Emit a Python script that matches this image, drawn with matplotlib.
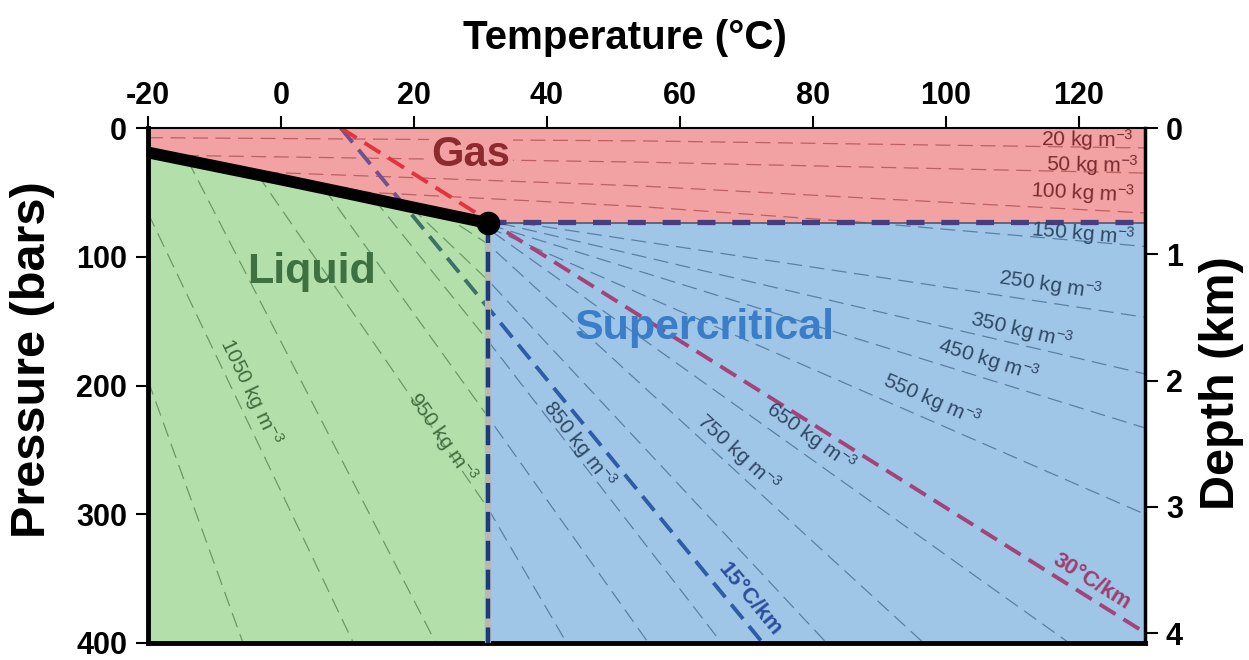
import numpy as np
import matplotlib.pyplot as plt
from matplotlib.patches import Polygon

plt.rcParams['font.family'] = ['Liberation Sans', 'DejaVu Sans']
plt.rcParams['mathtext.fontset'] = 'custom'
plt.rcParams['mathtext.rm'] = 'Liberation Sans'
plt.rcParams['mathtext.it'] = 'Liberation Sans:italic'
plt.rcParams['mathtext.bf'] = 'Liberation Sans:bold'
plt.rcParams['axes.unicode_minus'] = False

# axis ranges
T_min, T_max = -20, 130
P_max = 400
bar_per_km = 98.1

# CO2 critical point and liquid-vapour curve
crit_T, crit_P = 31.1, 73.8
boil_T = [-20, -10, 0, 10, 20, 31.1]
boil_P = [19.0, 29.5, 40.0, 50.8, 61.8, 73.8]

# isochores (kg m-3) as (T, P) vertices
iso_rho = [20, 50, 100, 150, 250, 350, 450, 550, 650, 750, 800, 850, 900, 950, 1000, 1050, 1100]
iso_T = [
    [-20, 54, 130],
    [-18, 54, 130],
    [-6, 54, 130],
    [8, 54, 89, 130],
    [36, 130],
    [33, 130],
    [31.3, 130],
    [31.1, 130],
    [29, 31.1, 118.6],
    [24, 31.1, 96.7],
    [19.5, 31.1, 82.1],
    [14, 31.1, 66.3],
    [6.5, 31.1, 55.3],
    [-3.5, 31.1, 43],
    [-14, 23.3],
    [-20, 10.9],
    [-20, -5.7],
]
iso_P = [
    [7.5, 10, 15.5],
    [21.1, 26.5, 35],
    [33.7, 45, 66],
    [48.6, 61, 73.8, 92],
    [73.8, 147],
    [74, 191],
    [75, 233],
    [77, 300],
    [71.5, 78, 400],
    [66.1, 90, 400],
    [61.2, 118, 400],
    [55.2, 165, 400],
    [47.0, 224, 400],
    [36.3, 295, 400],
    [25.3, 400],
    [66, 400],
    [196, 400],
]

# labelled isochores
label_rho = [20, 50, 100, 150, 250, 350, 450, 550, 650, 750, 850, 950, 1050]
label_T = [121.3, 122.1, 120.6, 120.6, 115.7, 111.4, 106.5, 97.9, 79.8, 68.8, 44.9, 24.3, -4.6]
label_P = [9.3, 28.7, 50.5, 81.6, 122, 157, 180, 211, 240, 252, 246, 240, 205]

# geotherms
geo_names = ['15°C/km', '30°C/km']
geo_T = [[9, 72.5], [9, 130]]
geo_P = [[0, 400], [0, 392]]
geo_label_T = [70.5, 122]
geo_label_P = [366, 352]

pink, green, blue = '#f2a2a2', '#b3dfab', '#9fc5e7'

fig = plt.figure(figsize=(12.49, 6.60), dpi=100)
ax = fig.add_axes([148 / 1249, 1 - 643 / 660, (1145 - 148) / 1249, (643 - 128) / 660])
ax.set_xlim(T_min, T_max)
ax.set_ylim(P_max, 0)

boil_pts = list(zip(boil_T, boil_P))
gas_pts = [(T_min, 0), (T_max, 0), (T_max, crit_P), (crit_T, crit_P)] + boil_pts[::-1]
liq_pts = boil_pts + [(crit_T, P_max), (T_min, P_max)]
sup_pts = [(crit_T, crit_P), (T_max, crit_P), (T_max, P_max), (crit_T, P_max)]

regions = {}
for name, pts, fc in [('gas', gas_pts, pink), ('liq', liq_pts, green), ('sup', sup_pts, blue)]:
    patch = Polygon(pts, closed=True, facecolor=fc, edgecolor='none', zorder=0)
    ax.add_patch(patch)
    regions[name] = patch

iso_colors = {'gas': '#bd6062', 'liq': '#6a9a66', 'sup': '#5b80a6'}
for Ts, Ps in zip(iso_T, iso_P):
    for name, patch in regions.items():
        ln, = ax.plot(Ts, Ps, color=iso_colors[name], lw=0.9, dashes=(12, 6), zorder=1)
        ln.set_clip_path(patch)

geo_colors = [
    {'gas': '#71508f', 'liq': '#3e7266', 'sup': '#2f5ca6'},
    {'gas': '#e2343f', 'liq': '#e2343f', 'sup': '#a4437a'},
]
for Ts, Ps, cols in zip(geo_T, geo_P, geo_colors):
    for name, patch in regions.items():
        ln, = ax.plot(Ts, Ps, color=cols[name], lw=2.8, dashes=(4.8, 2.4), zorder=2)
        ln.set_clip_path(patch)

# phase boundaries
ax.plot([crit_T, crit_T], [crit_P, P_max], color='#b8b8b8', lw=4.5, zorder=3, solid_capstyle='butt')
ax.plot([crit_T, crit_T], [crit_P, P_max], color='#1d3b7a', lw=3.2, dashes=(4.5, 2), zorder=3)
ax.plot([crit_T, T_max], [crit_P, crit_P], color='#55556a', lw=1.2, zorder=3)
ax.plot([crit_T, T_max], [crit_P - 0.8, crit_P - 0.8], color='#433f80', lw=3.8, dashes=(3.4, 3.2), zorder=3)
ax.plot(boil_T, boil_P, color='black', lw=8.5, solid_capstyle='butt', zorder=4)
ax.plot([crit_T], [crit_P], 'o', color='black', ms=16, zorder=5)


def screen_angle(Ts, Ps, t):
    i = 0
    while i < len(Ts) - 2 and t > Ts[i + 1]:
        i += 1
    p0 = ax.transData.transform((Ts[i], Ps[i]))
    p1 = ax.transData.transform((Ts[i + 1], Ps[i + 1]))
    ang = np.degrees(np.arctan2(p1[1] - p0[1], p1[0] - p0[0]))
    if ang > 90:
        ang -= 180
    elif ang <= -90:
        ang += 180
    return ang


for rho, t, p in zip(label_rho, label_T, label_P):
    k = iso_rho.index(rho)
    if rho <= 100:
        col = '#7a2a2e'
    elif rho >= 950:
        col = '#3f6d3f'
    else:
        col = '#2f4864'
    ang = screen_angle(iso_T[k], iso_P[k], t)
    ax.text(t, p, f'{rho} kg m$^{{-3}}$', fontsize=15, color=col, rotation=ang,
            rotation_mode='anchor', ha='center', va='center', zorder=6)

for name, Ts, Ps, t, p, col in zip(geo_names, geo_T, geo_P, geo_label_T, geo_label_P,
                                    ['#2c4f9c', '#a03c6c']):
    ang = screen_angle(Ts, Ps, t)
    ax.text(t, p, name, fontsize=16, fontweight='bold', color=col, rotation=ang,
            rotation_mode='anchor', ha='center', va='center', zorder=6)

ax.text(28.6, 21, 'Gas', fontsize=30, fontweight='bold', color='#8b2b2e',
        ha='center', va='center', zorder=6,
        bbox=dict(facecolor=pink, edgecolor='none', pad=2))
ax.text(4.6, 112, 'Liquid', fontsize=31, fontweight='bold', color='#3f7040',
        ha='center', va='center', zorder=6)
ax.text(63.7, 155, 'Supercritical', fontsize=31, fontweight='bold', color='#3a7dc9',
        ha='center', va='center', zorder=6)

# axes styling
ax.xaxis.tick_top()
ax.set_xticks(range(-20, 121, 20))
ax.set_yticks(range(0, 401, 100))
ax.tick_params(axis='x', which='both', direction='out', length=9, width=1.5, pad=3,
               labelsize=22, top=True, bottom=False)
ax.tick_params(axis='y', direction='out', length=9, width=1.5, pad=6, labelsize=22)
for lbl in ax.get_xticklabels() + ax.get_yticklabels():
    lbl.set_fontweight('bold')

ax.set_xlabel('Temperature (°C)', fontsize=29, fontweight='bold')
ax.xaxis.set_label_coords(0.478, 1.175)
ax.xaxis.label.set_va('center')
ax.set_ylabel('Pressure (bars)', fontsize=35, fontweight='bold')
ax.yaxis.set_label_coords(-0.116, 0.55)
ax.yaxis.label.set_va('center')

ax.spines['left'].set_linewidth(3.5)
ax.spines['bottom'].set_linewidth(3.5)
ax.spines['top'].set_linewidth(1.5)
ax.spines['right'].set_visible(False)

ax2 = ax.twinx()
ax2.set_ylim(P_max / bar_per_km, 0)
ax2.set_yticks(range(0, 5))
ax2.tick_params(axis='y', direction='out', length=9, width=1.5, pad=6, labelsize=22)
for lbl in ax2.get_yticklabels():
    lbl.set_fontweight('bold')
ax2.set_ylabel('Depth (km)', fontsize=35, fontweight='bold')
ax2.yaxis.set_label_coords(1.077, 0.505)
ax2.yaxis.label.set_va('center')
for side in ['left', 'top', 'bottom']:
    ax2.spines[side].set_visible(False)
ax2.spines['right'].set_linewidth(2.5)

fig.savefig('out.png', dpi=100)
